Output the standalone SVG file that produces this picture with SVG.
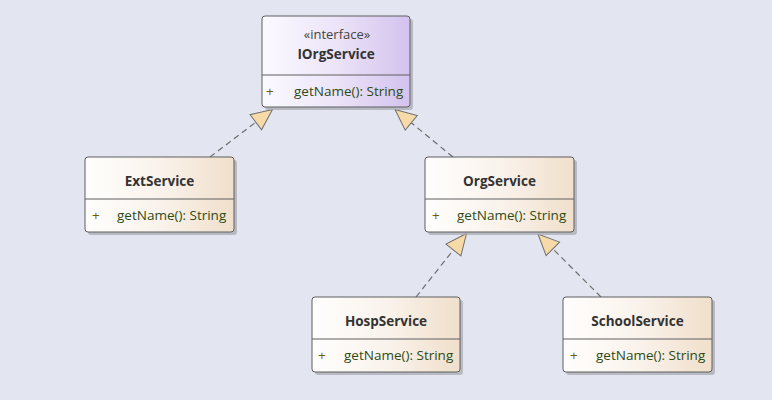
<svg xmlns="http://www.w3.org/2000/svg" width="772" height="400" viewBox="0 0 772 400">
<style>
.bg{fill:#e3e6f0}
.sh{fill:#a9abb4;opacity:0.75}
.box{stroke:#5e5e5e;stroke-width:1}
.div{stroke:#5e5e5e;stroke-width:1}
.cls{fill:url(#gCls)}
.ifc{fill:url(#gIfc)}
.title{font-family:"Open Sans","Noto Sans",sans-serif;font-size:13.5px;font-weight:bold;fill:#333333;text-anchor:middle}
.stereo{font-family:"Open Sans","Noto Sans",sans-serif;font-size:13px;fill:#444444;text-anchor:middle}
.vis{font-family:"Open Sans","Noto Sans",sans-serif;font-size:13.5px;fill:#6e5c00}
.op{font-family:"Open Sans","Noto Sans",sans-serif;font-size:13.5px;fill:#2e4a12}
.conn{stroke:#6e6e6e;stroke-width:1.2;stroke-dasharray:6 4;fill:none;marker-end:url(#gen)}
</style>
<defs>
<linearGradient id="gCls" x1="0" y1="0" x2="1" y2="0">
<stop offset="0" stop-color="#fffefd"/>
<stop offset="0.5" stop-color="#faf3ec"/>
<stop offset="1" stop-color="#f0dfcb"/>
</linearGradient>
<linearGradient id="gIfc" x1="0" y1="0" x2="1" y2="0">
<stop offset="0" stop-color="#fbfaff"/>
<stop offset="0.5" stop-color="#ece4f8"/>
<stop offset="1" stop-color="#d3c2ee"/>
</linearGradient>
<marker id="gen" markerUnits="userSpaceOnUse" markerWidth="24" markerHeight="22" refX="22" refY="10" orient="auto" overflow="visible">
<path d="M22,10 L1,0.5 L1,19.5 Z" fill="#f8d9a8" stroke="#6e6e6e" stroke-width="1"/>
</marker>
</defs>
<rect class="bg" x="0" y="0" width="772" height="400"/>

<g id="connectors">
<line class="conn" x1="210" y1="157" x2="272.5" y2="109.5"/>
<line class="conn" x1="453" y1="157" x2="395" y2="109.5"/>
<line class="conn" x1="416" y1="297" x2="466.5" y2="233.5"/>
<line class="conn" x1="601" y1="297" x2="538" y2="234"/>
</g>

<g id="IOrgService">
<rect class="sh" x="265" y="19" width="148" height="91" rx="3"/>
<rect class="box ifc" x="262" y="16" width="148" height="91" rx="3"/>
<line class="div" x1="262" y1="75" x2="410" y2="75"/>
<text class="stereo" x="337" y="39">«interface»</text>
<text class="title" x="336" y="59">IOrgService</text>
<text class="vis" x="266" y="96">+</text>
<text class="op" x="294" y="96">getName(): String</text>
</g>

<g id="ExtService">
<rect class="sh" x="88" y="160" width="149" height="75" rx="3"/>
<rect class="box cls" x="85" y="157" width="149" height="75" rx="3"/>
<line class="div" x1="85" y1="199" x2="234" y2="199"/>
<text class="title" x="159.5" y="186">ExtService</text>
<text class="vis" x="92" y="220">+</text>
<text class="op" x="117" y="220">getName(): String</text>
</g>

<g id="OrgService">
<rect class="sh" x="428" y="160" width="149" height="75" rx="3"/>
<rect class="box cls" x="425" y="157" width="149" height="75" rx="3"/>
<line class="div" x1="425" y1="199" x2="574" y2="199"/>
<text class="title" x="499.5" y="186">OrgService</text>
<text class="vis" x="432" y="220">+</text>
<text class="op" x="457" y="220">getName(): String</text>
</g>

<g id="HospService">
<rect class="sh" x="315" y="300" width="148" height="75" rx="3"/>
<rect class="box cls" x="312" y="297" width="148" height="75" rx="3"/>
<line class="div" x1="312" y1="339" x2="460" y2="339"/>
<text class="title" x="386" y="326">HospService</text>
<text class="vis" x="318" y="360">+</text>
<text class="op" x="344" y="360">getName(): String</text>
</g>

<g id="SchoolService">
<rect class="sh" x="566" y="300" width="149" height="75" rx="3"/>
<rect class="box cls" x="563" y="297" width="149" height="75" rx="3"/>
<line class="div" x1="563" y1="339" x2="712" y2="339"/>
<text class="title" x="637.5" y="326">SchoolService</text>
<text class="vis" x="570" y="360">+</text>
<text class="op" x="596" y="360">getName(): String</text>
</g>
</svg>
